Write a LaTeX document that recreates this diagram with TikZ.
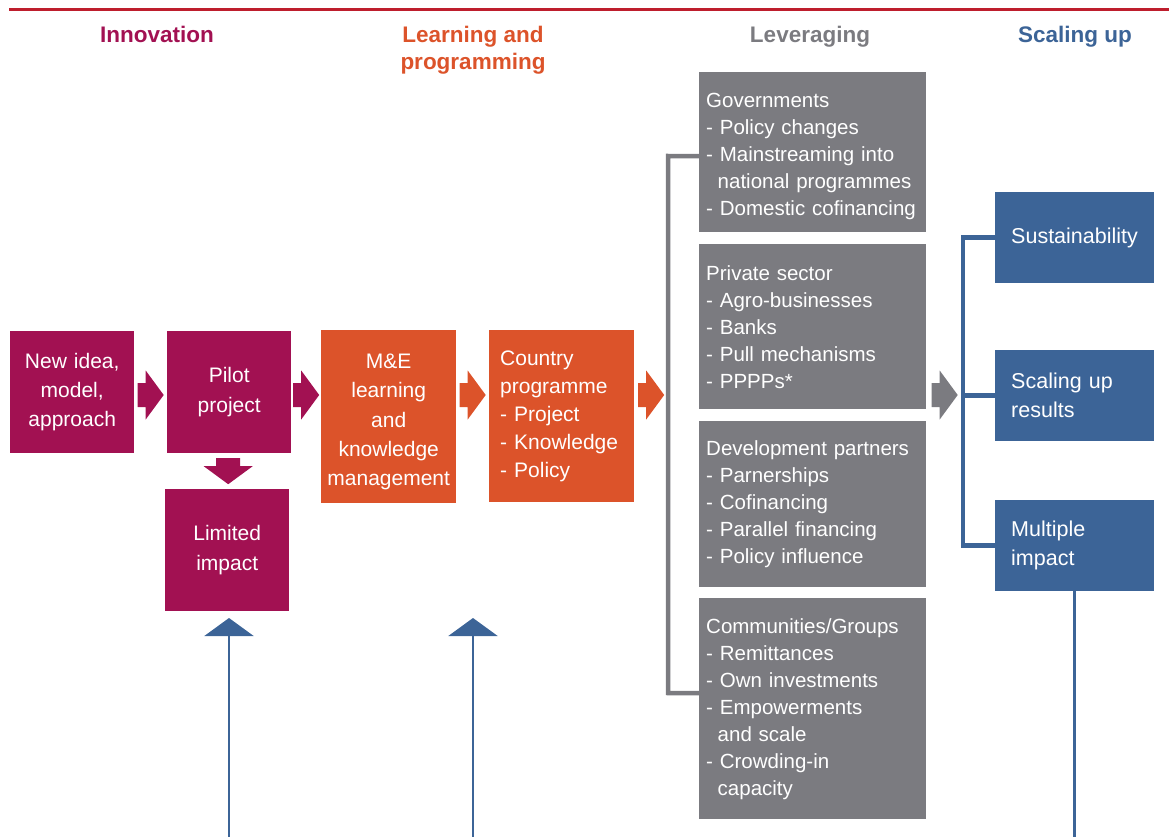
\documentclass[tikz,border=0pt]{standalone}
\usepackage{fontspec}
\setmainfont{Liberation Sans}
\usepackage{tikz}
\usetikzlibrary{arrows.meta,calc}
\usepackage{xcolor}
\definecolor{innov}{HTML}{A21152}
\definecolor{learn}{HTML}{DC532A}
\definecolor{lever}{HTML}{7B7B80}
\definecolor{scaleblue}{HTML}{3C6497}
\definecolor{topline}{HTML}{BE1E2D}

\begin{document}
\begin{tikzpicture}[x=1pt,y=-1pt]
\tikzstyle{head} = [anchor=north, inner sep=0pt, align=center,
font=\fontsize{22.5}{27}\selectfont\bfseries]
\tikzstyle{block} = [rectangle, anchor=north west, inner sep=0pt, text=white,
font=\fontsize{21}{29.3}\selectfont, align=center]
\tikzstyle{block_list} = [block, align=left, font=\fontsize{20.5}{27}\selectfont]
\tikzstyle{bracket} = [draw, line width=4.5pt, line join=miter];
\tikzstyle{up_line} = [draw=scaleblue, fill=scaleblue, line width=2.5pt,
-{Triangle[width=49pt,length=18pt]}];
\tikzset{fatarrow/.pic={\fill (-13,-12) -- (-5,-12) -- (-5,-24.5) -- (13,0)
  -- (-5,24.5) -- (-5,12) -- (-13,12) -- cycle;}}
\useasboundingbox (0,0) rectangle (1169,837);

\coordinate (rulel) at (9,10);
\coordinate (ruler) at (1169,10);
\draw[topline, line width=3pt] (rulel) -- (ruler);

% headers
\node [head, text=innov] (hinno) at (157,26) {Innovation};
\node [head, text=learn] (hlearn) at (473,26) {Learning and\\programming};
\node [head, text=lever] (hlev) at (810,26) {Leveraging};
\node [head, text=scaleblue] (hscale) at (1075,26) {Scaling up};

% innovation
\node [block, fill=innov, minimum width=124pt, minimum height=122pt,
text width=116pt] (idea) at (10,331) {New idea,\\model,\\approach};
\node [block, fill=innov, minimum width=124pt, minimum height=122pt,
text width=116pt] (pilot) at (167,331) {Pilot\\project};
\node [block, fill=innov, minimum width=124pt, minimum height=122pt,
text width=116pt] (limited) at (165,489) {Limited\\impact};
% learning and programming
\node [block, fill=learn, minimum width=135pt, minimum height=173pt,
text width=131pt] (mande) at (321,330) {\rule{0pt}{25pt}M\&E\\learning\\and\\knowledge\\management};
\node [block_list, fill=learn, minimum width=145pt, minimum height=172pt,
text width=123pt, font=\fontsize{21}{28}\selectfont] (country) at (489,330)
{Country\\programme\\- Project\\- Knowledge\\- Policy};
% leveraging
\node [block_list, fill=lever, minimum width=227pt, minimum height=160pt,
text width=213pt] (gov) at (699,72) {\rule{0pt}{23pt}Governments\\- Policy changes\\
- Mainstreaming into\\\hspace*{11.5pt}national programmes\\\mbox{- Domestic cofinancing}};
\node [block_list, fill=lever, minimum width=227pt, minimum height=165pt,
text width=213pt] (priv) at (699,244) {Private sector\\- Agro-businesses\\
- Banks\\- Pull mechanisms\\- PPPPs*};
\node [block_list, fill=lever, minimum width=227pt, minimum height=166pt,
text width=213pt] (dev) at (699,421) {\mbox{Development partners}\\- Parnerships\\
- Cofinancing\\- Parallel financing\\- Policy influence};
\node [block_list, fill=lever, minimum width=227pt, minimum height=221pt,
text width=213pt] (comm) at (699,598) {Communities/Groups\\- Remittances\\
- Own investments\\- Empowerments\\\hspace*{11.5pt}and scale\\- Crowding-in\\
\hspace*{11.5pt}capacity};
% scaling up
\node [block_list, fill=scaleblue, minimum width=159pt, minimum height=91pt,
text width=127pt, font=\fontsize{21.5}{29}\selectfont] (sust) at (995,192) {\mbox{Sustainability}};
\node [block_list, fill=scaleblue, minimum width=159pt, minimum height=91pt,
text width=127pt, font=\fontsize{21.5}{29}\selectfont] (res) at (995,350) {Scaling up\\results};
\node [block_list, fill=scaleblue, minimum width=159pt, minimum height=91pt,
text width=127pt, font=\fontsize{21.5}{29}\selectfont] (multi) at (995,500) {Multiple\\impact};

\coordinate (row) at (0,395);
\coordinate (levtop) at (668,156);
\coordinate (levbot) at (668,693);
\coordinate (bx) at (963,0);
\coordinate (bottom) at (0,837);

% brackets
\path [bracket, draw=lever] ($(gov.west)+(0,4)$) -- (levtop) -- (levbot)
  -- ($(comm.west)+(0,-15.5)$);
\path [bracket, draw=lever] ($(priv.west)+(0,-6.5)$) -- ($(priv.west)+(0,-6.5)$ -| levtop);
\path [bracket, draw=lever] ($(dev.west)+(0,-4)$) -- ($(dev.west)+(0,-4)$ -| levtop);
\path [bracket, draw=scaleblue] (sust.west) -- (sust.west -| bx) -- (multi.west -| bx)
  -- (multi.west);
\path [bracket, draw=scaleblue] (res.west) -- (res.west -| bx);
\draw [scaleblue, line width=2.5pt] (multi.south) -- (multi.south |- bottom);

% block arrows
\coordinate (a1) at ($(idea.east)!0.5!(pilot.west)$);
\coordinate (a2) at ($(pilot.east)!0.5!(mande.west)$);
\coordinate (a3) at ($(mande.east)!0.5!(country.west)$);
\coordinate (a4) at ($(country.east)!0.5!(levtop)$);
\coordinate (a5) at ($(priv.east)!0.5!(bx)$);
\pic [fill=innov] at (a1 |- row) {fatarrow};
\pic [fill=innov] at (a2 |- row) {fatarrow};
\pic [fill=innov, rotate=-90] at ($(pilot.south)!0.5!(limited.north)$) {fatarrow};
\pic [fill=learn] at (a3 |- row) {fatarrow};
\pic [fill=learn] at (a4 |- row) {fatarrow};
\pic [fill=lever] at (a5 |- row) {fatarrow};

% arrows from below
\coordinate (foot1) at (229,837);
\coordinate (tip1) at (229,618);
\coordinate (foot2) at (473,837);
\coordinate (tip2) at (473,618);
\path [up_line] (foot1) -- (tip1);
\path [up_line] (foot2) -- (tip2);

\end{tikzpicture}
\end{document}
